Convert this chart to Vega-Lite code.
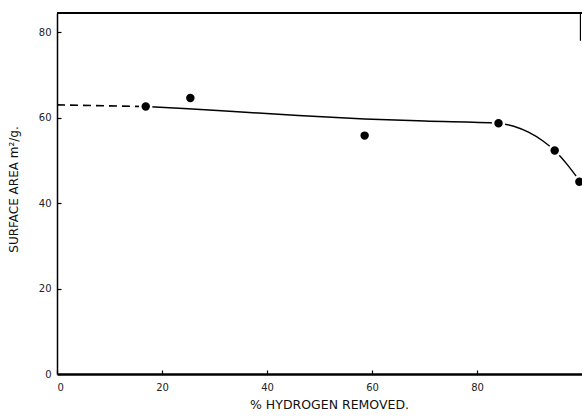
{
  "$schema": "https://vega.github.io/schema/vega-lite/v6.json",
  "width": 525,
  "height": 361,
  "autosize": {"type": "none"},
  "padding": {"left": 57, "top": 13, "right": 0, "bottom": 46},
  "background": "white",
  "config": {
    "view": {"stroke": null},
    "font": "DejaVu Sans",
    "axis": {
      "grid": false,
      "domainColor": "black",
      "tickColor": "black",
      "tickWidth": 1.2,
      "labelColor": "#222",
      "titleColor": "#111",
      "labelFont": "DejaVu Sans",
      "titleFont": "DejaVu Sans",
      "labelFontSize": 10,
      "titleFontSize": 12,
      "titleFontWeight": "normal"
    }
  },
  "datasets": {
    "points": [
      {"h": 16.9, "sa": 62.6},
      {"h": 25.4, "sa": 64.6},
      {"h": 58.6, "sa": 55.8},
      {"h": 84.1, "sa": 58.7},
      {"h": 94.8, "sa": 52.3},
      {"h": 99.5, "sa": 45.0}
    ],
    "solid": [
      {"h": 16.9, "sa": 62.6},
      {"h": 25, "sa": 62.1},
      {"h": 36.6, "sa": 61.2},
      {"h": 46, "sa": 60.5},
      {"h": 58.6, "sa": 59.7},
      {"h": 70, "sa": 59.2},
      {"h": 84.1, "sa": 58.7},
      {"h": 87, "sa": 58.0},
      {"h": 89.8, "sa": 56.6},
      {"h": 92.5, "sa": 54.6},
      {"h": 94.8, "sa": 52.3},
      {"h": 97, "sa": 49.3},
      {"h": 99.5, "sa": 45.3}
    ],
    "dashed": [
      {"h": 0, "sa": 63.0},
      {"h": 16.9, "sa": 62.6}
    ]
  },
  "layer": [
    {
      "data": {"name": "dashed"},
      "mark": {"type": "line", "color": "black", "strokeWidth": 1.6, "strokeDash": [8, 5], "clip": true},
      "encoding": {
        "x": {"field": "h", "type": "quantitative", "scale": {"domain": [0, 100], "nice": false},
          "axis": {"values": [0, 20, 40, 60, 80], "title": "% HYDROGEN REMOVED.", "domainWidth": 2.5, "tickSize": -4, "labelPadding": 12, "titleX": 272, "titleY": 37, "titleAnchor": "middle", "titleBaseline": "bottom", "titleFontSize": 12.5}},
        "y": {"field": "sa", "type": "quantitative", "scale": {"domain": [0, 84.5], "nice": false},
          "axis": {"values": [0, 20, 40, 60, 80], "title": "SURFACE AREA m²/g.", "domainWidth": 1.5, "tickSize": -4, "labelPadding": 10, "titleX": -37, "titleY": 176, "titleAnchor": "middle"}}
      }
    },
    {
      "data": {"name": "solid"},
      "mark": {"type": "line", "color": "black", "strokeWidth": 1.5, "interpolate": "monotone", "clip": true},
      "encoding": {
        "x": {"field": "h", "type": "quantitative"},
        "y": {"field": "sa", "type": "quantitative"}
      }
    },
    {
      "data": {"name": "points"},
      "mark": {"type": "point", "filled": true, "fill": "black", "stroke": "white", "strokeWidth": 2.5, "strokeOpacity": 1, "opacity": 1, "size": 120, "clip": true},
      "encoding": {
        "x": {"field": "h", "type": "quantitative"},
        "y": {"field": "sa", "type": "quantitative"}
      }
    },
    {
      "data": {"values": [{"h": 0}]},
      "mark": {"type": "rule", "color": "black", "strokeWidth": 2},
      "encoding": {
        "x": {"field": "h", "type": "quantitative"},
        "x2": {"datum": 100},
        "y": {"datum": 84.5}
      }
    },
    {
      "data": {"values": [{"h": 99.7}]},
      "mark": {"type": "rule", "color": "black", "strokeWidth": 1.2},
      "encoding": {
        "x": {"field": "h", "type": "quantitative"},
        "y": {"datum": 78},
        "y2": {"datum": 84.5}
      }
    }
  ]
}
